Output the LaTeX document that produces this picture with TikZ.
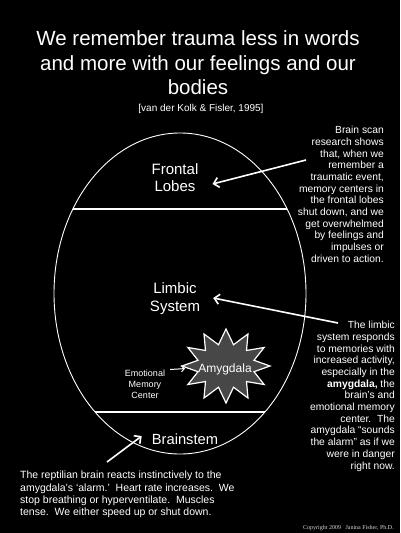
\documentclass[tikz,border=0pt]{standalone}
\usepackage{fontspec}
\setmainfont{Liberation Sans}
\newfontfamily\serifnote{Liberation Serif}
\usetikzlibrary{arrows.meta}

\tikzset{
  lbl/.style={text=white, inner sep=0pt, align=center},
  note/.style={text=white, inner sep=0pt, font=\fontsize{10.3}{11.7}\selectfont},
  arr/.style={draw=white, line width=1.6pt, -{Straight Barb[length=5pt,width=10pt]}},
  smallarr/.style={draw=white, line width=1pt, -{Straight Barb[length=3pt,width=6pt]}},
}

\begin{document}
\begin{tikzpicture}[x=1pt, y=-1pt]

    \def\ecx{180}
    \def\ecy{293.5}
    \def\erx{126}
    \def\ery{160.5}

    % --- Background ---
    \fill[black] (0,0) rectangle (400,533);

    % --- Title ---
    \node[lbl, anchor=north, font=\fontsize{20.5}{24.5}\selectfont] (title) at (198,30.5)
      {We remember trauma less in words\\and more with our feelings and our\\bodies};
    \node[lbl, anchor=base, font=\fontsize{10}{12}\selectfont] (cite) at (201,111)
      {[van der Kolk \& Fisler, 1995]};

    % --- Brain outline ---
    \draw[white, line width=0.9pt] (\ecx,\ecy) ellipse [x radius=\erx, y radius=\ery];
    \begin{scope}
      \clip (\ecx,\ecy) ellipse [x radius=\erx, y radius=\ery];
      % frontal / limbic border
      \draw[white, line width=1.6pt] (0,209) -- (400,209);
      % limbic / brainstem border
      \draw[white, line width=1.6pt] (0,412) -- (400,412);
    \end{scope}

    % --- Regions ---
    \node[lbl, font=\fontsize{15}{17}\selectfont] (frontal) at (175,177.5) {Frontal\\Lobes};
    \node[lbl, font=\fontsize{15}{18}\selectfont] (limbic) at (175,298.5) {Limbic\\System};
    \node[lbl, anchor=base, font=\fontsize{14.7}{17}\selectfont] (brainstem) at (185,444.3) {Brainstem};

    % --- Amygdala star ---
    \coordinate (amyc) at (226,366);
    \path[draw=white, line width=1.2pt, fill=black!72]
      plot[samples at={0,...,24}]
      ({226+(mod(\x,2)==0 ? 44 : 29)*cos(15*\x)}, {366-(mod(\x,2)==0 ? 37 : 22)*sin(15*\x)}) -- cycle;
    \node[lbl, anchor=base, font=\fontsize{12}{14}\selectfont] (amy) at (225,372.3) {Amygdala};
    \node[lbl, font=\fontsize{9}{11}\selectfont] (emc) at (145,384) {Emotional\\Memory\\Center};
    \draw[smallarr, shorten >=41pt] ([xshift=5pt]emc.north east) -- (amyc);

    % --- Notes ---
    \node[note, anchor=north east, align=right] (scan) at (384,126)
      {Brain scan\\research shows\\that, when we\\remember a\\traumatic event,\\memory centers in\\the frontal lobes\\shut down, and we\\get overwhelmed\\by feelings and\\impulses or\\driven to action.};
    \node[note, anchor=north east, align=right] (limbicnote) at (395,321)
      {The limbic\\system responds\\to memories with\\increased activity,\\especially in the\\\textbf{amygdala,} the\\brain's and\\emotional memory\\center.\ \ The\\amygdala ``sounds\\the alarm'' as if we\\were in danger\\right now.};
    \node[note, anchor=north west, align=left, font=\fontsize{10.5}{12.2}\selectfont] (reptile) at (20,471)
      {The reptilian brain reacts instinctively to the\\amygdala's `alarm.'\ \ Heart rate increases.\ \ We\\stop breathing or hyperventilate.\ \ Muscles\\tense.\ \ We either speed up or shut down.};
    \node[anchor=base east, inner sep=0pt, text=white!85!black, font=\serifnote\fontsize{6}{7}\selectfont] (copy) at (394,529)
      {Copyright 2009\ \ \ Janina Fisher, Ph.D.};

    % --- Arrows ---
    \coordinate (scantail) at (306,160);
    \coordinate (limbictail) at (338,323);
    \coordinate (stemtail) at (107,462);
    \draw[arr] (scantail) -- ([xshift=14pt,yshift=-6.5pt]frontal.east);
    \draw[arr] (limbictail) -- ([xshift=13pt,yshift=0.5pt]limbic.east);
    \draw[arr] (stemtail) -- ([xshift=-10pt,yshift=3pt]brainstem.west);

\end{tikzpicture}
\end{document}
